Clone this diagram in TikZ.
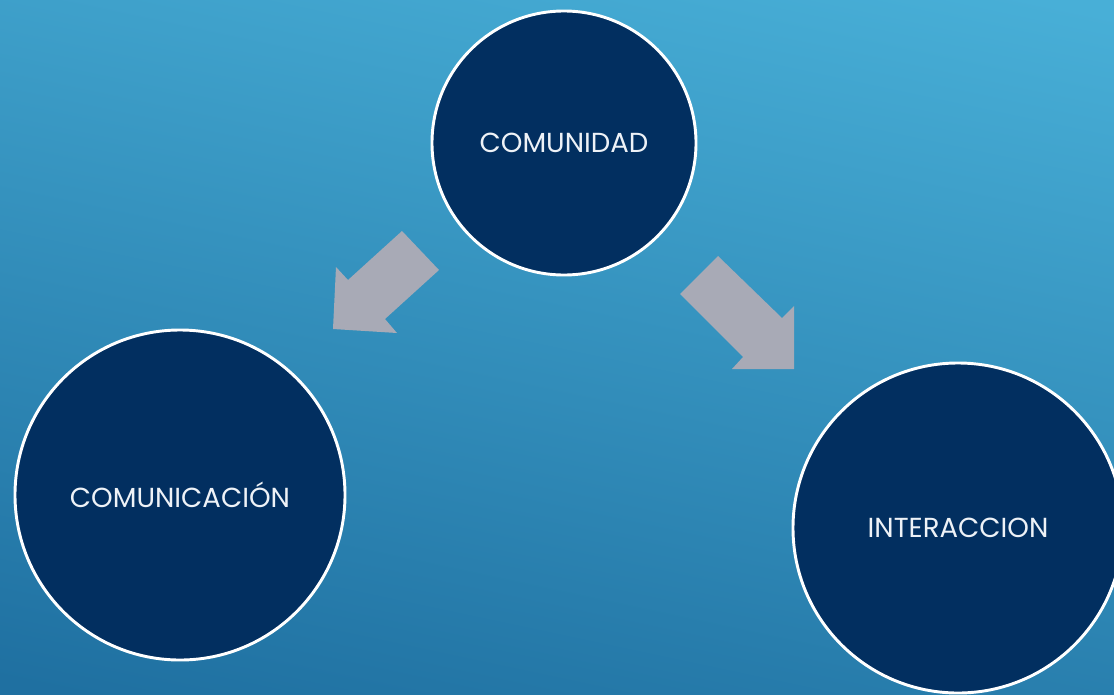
\documentclass[tikz,border=0pt]{standalone}
\usepackage{fontspec}
\setmainfont{Poppins}
\usepackage{tikz}
\usetikzlibrary{positioning}

\definecolor{skytop}{HTML}{48AFD7}
\definecolor{skybottom}{HTML}{1F70A1}
\definecolor{navy}{HTML}{022F60}
\definecolor{arrowgray}{HTML}{A8AAB6}
\definecolor{labelwhite}{HTML}{EEF2F7}

\tikzset{
  topic/.style={circle,fill=navy,draw=white,line width=2.5pt,inner sep=0pt,
    text=labelwhite,font=\fontsize{23.5}{27}\selectfont},
  blockarrow/.style={fill=arrowgray}
}

\begin{document}
\begin{tikzpicture}[x=0.03cm,y=-0.03cm]

\useasboundingbox (0,0) rectangle (1114,694);
\shade[top color=skytop,bottom color=skybottom,shading angle=-12] (-60,-60) rectangle (1174,754);

\node[topic,minimum size=7.92cm] (comunidad) at (564,143) {COMUNIDAD};
\node[topic,minimum size=9.9cm] (comunicacion) at (180,495) {COMUNICACIÓN};
\node[topic,minimum size=9.9cm] (interaccion) at (958,528) {INTERACCION};

% arrows
\fill[blockarrow] (402,231) -- (439,270) -- (385,319) -- (397,333) -- (333,329) -- (336,267) -- (348,280) -- cycle;
\fill[blockarrow] (718,256) -- (782,318) -- (794,306) -- (794,369) -- (732,369) -- (743,357) -- (680,294) -- cycle;

\end{tikzpicture}
\end{document}
